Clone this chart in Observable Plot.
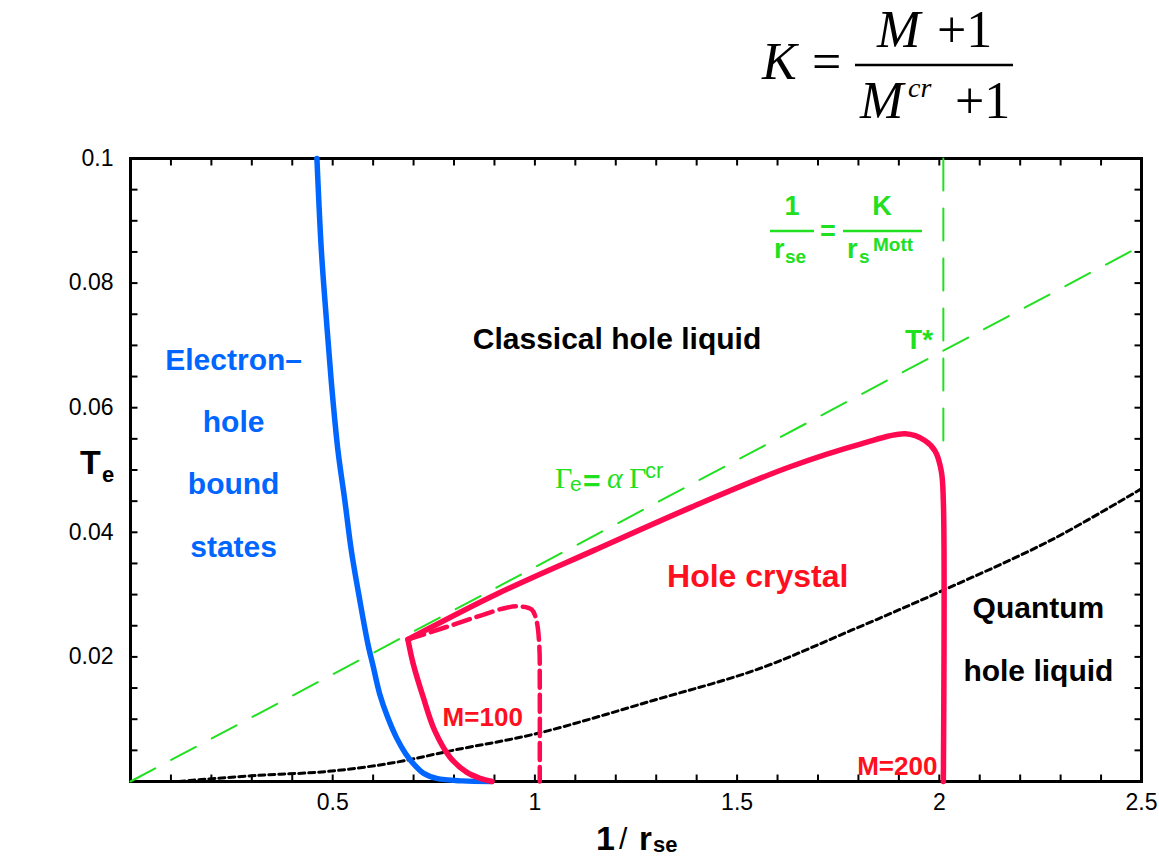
<!DOCTYPE html>
<html>
<head>
<meta charset="utf-8">
<script src="https://cdn.jsdelivr.net/npm/d3@7"></script>
<script src="https://cdn.jsdelivr.net/npm/@observablehq/plot@0.6"></script>
<style>
  html, body { margin: 0; padding: 0; background: #fff; }
  #wrap { position: relative; width: 1159px; height: 856px; }
  #notes { position: absolute; left: 0; top: 0; pointer-events: none; }
</style>
</head>
<body>
<div id="wrap">
  <div id="chart"></div>
  <svg id="notes" width="1159" height="856" xmlns="http://www.w3.org/2000/svg">
    <!-- K = (M + 1) / (M^cr + 1) -->
    <g font-family="'Liberation Serif', 'Times New Roman', serif" fill="#000">
      <text x="762" y="79" font-size="52" font-style="italic">K</text>
      <text x="812" y="79" font-size="52">=</text>
      <line x1="855" x2="1013" y1="65" y2="65" stroke="#000" stroke-width="2.5"/>
      <text x="877" y="47" font-size="52" font-style="italic">M</text>
      <text x="937" y="47" font-size="52">+1</text>
      <text x="860" y="118" font-size="52" font-style="italic">M</text>
      <text x="908" y="97" font-size="28" font-style="italic">cr</text>
      <text x="955" y="118" font-size="52">+1</text>
    </g>
    <!-- axis titles -->
    <g font-family="'Liberation Sans', Arial, sans-serif" font-weight="bold" fill="#000">
      <text x="80" y="474" font-size="34">T</text>
      <text x="102" y="482" font-size="22">e</text>
      <text x="596" y="850" font-size="34">1</text>
      <text x="619" y="849" font-size="30" font-weight="normal">/</text>
      <text x="639" y="850" font-size="33">r</text>
      <text x="653" y="852" font-size="22">se</text>
    </g>
    <!-- 1/r_se = K / r_s^Mott -->
    <g font-family="'Liberation Sans', Arial, sans-serif" font-weight="bold" fill="#20e020">
      <text x="792" y="215" font-size="27" text-anchor="middle">1</text>
      <line x1="770" x2="814" y1="231" y2="231" stroke="#20e020" stroke-width="2.5"/>
      <text x="828" y="240" font-size="27" text-anchor="middle">=</text>
      <line x1="843" x2="922" y1="231" y2="231" stroke="#20e020" stroke-width="2.5"/>
      <text x="882" y="215" font-size="27" text-anchor="middle">K</text>
      <text x="774" y="258" font-size="27">r</text>
      <text x="785" y="263" font-size="19">se</text>
      <text x="847" y="258" font-size="27">r</text>
      <text x="859" y="263" font-size="19">s</text>
      <text x="873" y="251" font-size="19">Mott</text>
    </g>
    <!-- Γe = α Γcr -->
    <g fill="#20e020">
      <text x="555" y="488" font-family="'Liberation Serif', serif" font-size="30">Γ</text>
      <text x="570" y="491" font-family="'Liberation Sans', sans-serif" font-size="21">e</text>
      <text x="583" y="491" font-family="'Liberation Sans', sans-serif" font-weight="bold" font-size="30">=</text>
      <text x="607" y="488" font-family="'Liberation Serif', serif" font-style="italic" font-size="30">α</text>
      <text x="629" y="488" font-family="'Liberation Serif', serif" font-size="30">Γ</text>
      <text x="645" y="478" font-family="'Liberation Sans', sans-serif" font-size="22">cr</text>
    </g>
  </svg>
</div>
<script>
// Phase diagram in the (1/r_se, T_e) plane.

// Electron–hole bound-state boundary
const boundX = [0.461, 0.472, 0.484, 0.497, 0.513, 0.530, 0.546, 0.567, 0.587, 0.600, 0.616, 0.636, 0.658, 0.680, 0.699, 0.725, 0.757, 0.820, 0.893];
const boundT = [0.1, 0.0852, 0.0745, 0.0638, 0.0531, 0.0451, 0.0371, 0.0291, 0.0221, 0.0185, 0.0141, 0.0103, 0.0070, 0.0045, 0.0029, 0.0013, 0.0005, 0.0001, 0];

// Hole crystal boundary, M = 200: low-density branch and upper/right branch
const m200LeftX = [0.686, 0.699, 0.724, 0.752, 0.790, 0.831, 0.865, 0.894];
const m200LeftT = [0.0228, 0.0189, 0.0135, 0.0082, 0.0039, 0.0015, 0.0005, 0];
const m200TopX = [0.686, 0.906, 1.146, 1.386, 1.626, 1.807, 1.916, 1.965, 1.990, 2.005, 2.010, 2.010];
const m200TopT = [0.0228, 0.0301, 0.0371, 0.0440, 0.0504, 0.0542, 0.0558, 0.0547, 0.0530, 0.0498, 0.0450, 0];

// Hole crystal boundary, M = 100
const m100X = [0.686, 0.781, 0.864, 0.930, 0.963, 0.992, 1.004, 1.011, 1.012, 1.012];
const m100T = [0.0228, 0.0248, 0.0266, 0.0279, 0.0281, 0.0276, 0.0258, 0.0216, 0.0162, 0];

// Classical / quantum liquid crossover
const quantumX = [0.12, 0.153, 0.319, 0.485, 0.649, 0.797, 1.005, 1.292, 1.550, 1.780, 2.010, 2.275, 2.500];
const quantumT = [0, 0.0002, 0.0010, 0.0016, 0.0030, 0.0050, 0.0077, 0.0130, 0.0180, 0.0242, 0.0307, 0.0387, 0.0470];

// Γe = α Γcr line and the Mott density 1/r_se = K / r_s^Mott
const gammaX = [0, 2.5];
const gammaT = [0, 0.086];
const mottX = [2.01, 2.01];
const mottT = [0.1, 0.0534];

// Axis ticks
const xTickLabels = [0.5, 1, 1.5, 2, 2.5];
const yTickLabels = [0.02, 0.04, 0.06, 0.08, 0.1];
const xMinorTicks = [0.1, 0.2, 0.3, 0.4, 0.5, 0.6, 0.7, 0.8, 0.9, 1, 1.1, 1.2, 1.3, 1.4, 1.5, 1.6, 1.7, 1.8, 1.9, 2, 2.1, 2.2, 2.3, 2.4];
const yMinorTicks = [0.005, 0.01, 0.015, 0.02, 0.025, 0.03, 0.035, 0.04, 0.045, 0.05, 0.055, 0.06, 0.065, 0.07, 0.075, 0.08, 0.085, 0.09, 0.095];

const pts = (xs, ts) => xs.map((x, i) => ({x, t: ts[i]}));

const RED = "#ff0a50";
const BLUE = "#0066ff";
const GREEN = "#20e020";
const LABEL_RED = "#ff1020";
const sans = "'Liberation Sans', Arial, sans-serif";

// layout
const W = 1159, H = 856;
const M = {left: 130, right: 18, top: 158, bottom: 75};
const xDomain = [0, 2.5], yDomain = [0, 0.1];
const innerW = W - M.left - M.right;
const innerH = H - M.top - M.bottom;
const TICK = 7;                                   // tick length in pixels
const tickDX = (xDomain[1] - xDomain[0]) * TICK / innerW;
const tickDY = (yDomain[1] - yDomain[0]) * TICK / innerH;

// tick segments as explicit rows for the link mark
const xTickRows = xMinorTicks.flatMap(v => [
  {x1: v, x2: v, y1: yDomain[0], y2: yDomain[0] + tickDY},
  {x1: v, x2: v, y1: yDomain[1] - tickDY, y2: yDomain[1]}
]);
const yTickRows = yMinorTicks.flatMap(v => [
  {x1: xDomain[0], x2: xDomain[0] + tickDX, y1: v, y2: v},
  {x1: xDomain[1] - tickDX, x2: xDomain[1], y1: v, y2: v}
]);

const chart = Plot.plot({
  width: W,
  height: H,
  marginLeft: M.left,
  marginRight: M.right,
  marginTop: M.top,
  marginBottom: M.bottom,
  style: {background: "#fff", color: "#000", fontFamily: sans},
  x: {domain: xDomain},
  y: {domain: yDomain},
  marks: [
    Plot.frame({stroke: "#000", fill: "none", strokeWidth: 3}),
    Plot.axisX(xTickLabels, {anchor: "bottom", tickSize: 0, tickPadding: 12, fontSize: 23, label: null, tickFormat: d => String(d)}),
    Plot.axisY(yTickLabels, {anchor: "left", tickSize: 0, tickPadding: 17, fontSize: 23, label: null, tickFormat: d => String(d)}),
    // short inward ticks along each edge of the frame
    Plot.link([...xTickRows, ...yTickRows], {x1: "x1", x2: "x2", y1: "y1", y2: "y2", stroke: "#000", strokeWidth: 2}),

    Plot.line(pts(gammaX, gammaT), {x: "x", y: "t", stroke: GREEN, strokeWidth: 2, strokeDasharray: "28,18"}),
    Plot.line(pts(mottX, mottT), {x: "x", y: "t", stroke: GREEN, strokeWidth: 2, strokeDasharray: "32,18"}),
    Plot.line(pts(quantumX, quantumT), {x: "x", y: "t", stroke: "#000", strokeWidth: 3, strokeDasharray: "6,4", curve: "catmull-rom"}),
    Plot.line(pts(m100X, m100T), {x: "x", y: "t", stroke: RED, strokeWidth: 4.5, strokeDasharray: "17,7", curve: "catmull-rom"}),
    Plot.line(pts(boundX, boundT), {x: "x", y: "t", stroke: BLUE, strokeWidth: 5.5, curve: "catmull-rom"}),
    Plot.line(pts(m200LeftX, m200LeftT), {x: "x", y: "t", stroke: RED, strokeWidth: 5.5, curve: "catmull-rom"}),
    Plot.line(pts(m200TopX, m200TopT), {x: "x", y: "t", stroke: RED, strokeWidth: 5.5, curve: "catmull-rom"}),

    // phase labels
    Plot.text(["Classical hole liquid"], {x: 1.203, y: 0.0709, fontSize: 30, fontWeight: "bold", fill: "#000"}),
    Plot.text(["Electron–\nhole\nbound\nstates"], {x: 0.255, y: 0.0543, fontSize: 30, fontWeight: "bold", fill: BLUE, lineHeight: 2.08}),
    Plot.text(["Hole crystal"], {x: 1.551, y: 0.0329, fontSize: 32, fontWeight: "bold", fill: LABEL_RED}),
    Plot.text(["Quantum\nhole liquid"], {x: 2.245, y: 0.0245, fontSize: 30, fontWeight: "bold", fill: "#000", lineHeight: 2.1}),
    Plot.text(["M=100"], {x: 0.871, y: 0.0103, fontSize: 26, fontWeight: "bold", fill: LABEL_RED}),
    Plot.text(["M=200"], {x: 1.896, y: 0.0024, fontSize: 26, fontWeight: "bold", fill: LABEL_RED}),
    Plot.text(["T*"], {x: 1.950, y: 0.0709, fontSize: 28, fontWeight: "bold", fill: GREEN})
  ]
});

document.getElementById("chart").append(chart);
</script>
</body>
</html>
